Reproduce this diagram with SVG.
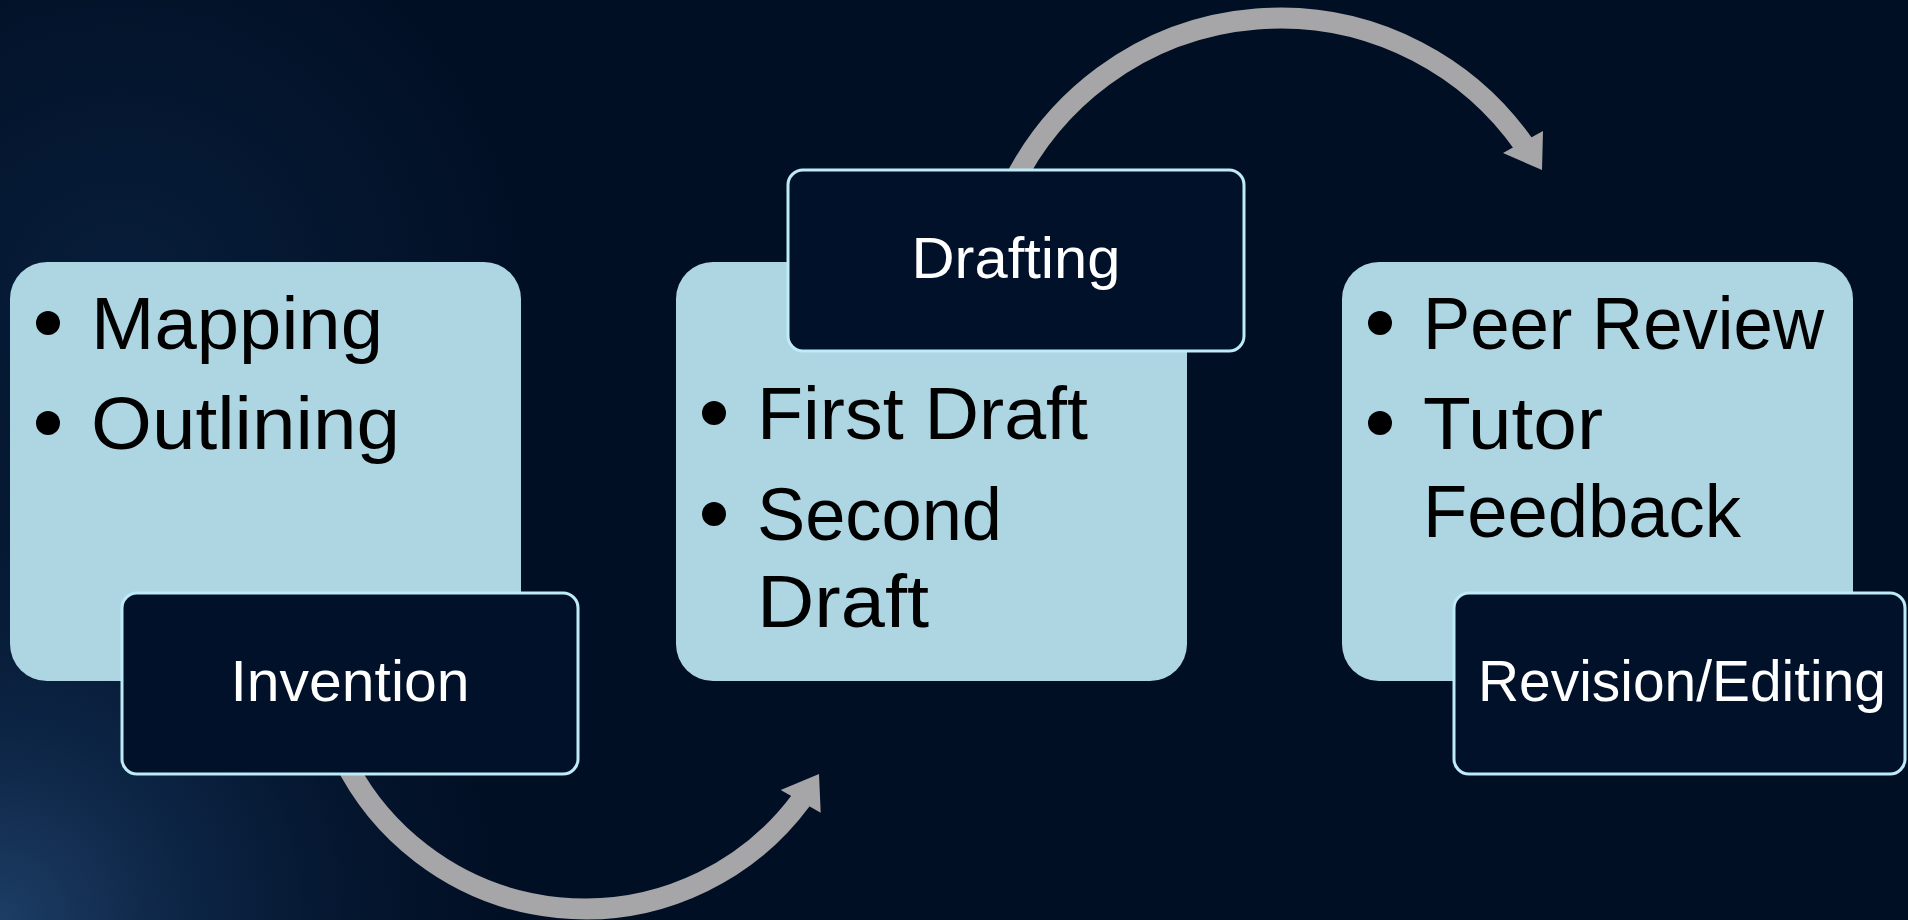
<svg xmlns="http://www.w3.org/2000/svg" width="1908" height="920" viewBox="0 0 1908 920">
  <defs>
    <radialGradient id="glow" cx="0" cy="920" r="520" gradientUnits="userSpaceOnUse">
      <stop offset="0" stop-color="#2a5282" stop-opacity="0.7"/>
      <stop offset="0.45" stop-color="#173a66" stop-opacity="0.4"/>
      <stop offset="1" stop-color="#0a1f3f" stop-opacity="0"/>
    </radialGradient>
    <radialGradient id="glow2" cx="120" cy="300" r="420" gradientUnits="userSpaceOnUse">
      <stop offset="0" stop-color="#0e2a4e" stop-opacity="0.55"/>
      <stop offset="1" stop-color="#0e2a4e" stop-opacity="0"/>
    </radialGradient>
    <style>
      .card { fill: #ADD5E2; }
      .label { fill: #001129; stroke: #BDEBF7; stroke-width: 3; }
      .bullet { fill: #000000; }
      .btext { font-family: "Liberation Sans", Arial, sans-serif; font-size: 74px; fill: #000000; }
      .ltext { font-family: "Liberation Sans", Arial, sans-serif; font-size: 57px; fill: #FFFFFF; text-anchor: middle; }
      .shaft { fill: none; stroke: #A6A6A8; stroke-width: 21; stroke-linecap: butt; }
      .head { fill: #A6A6A8; }
    </style>
  </defs>
  <rect x="0" y="0" width="1908" height="920" fill="#010F24"/>
  <rect x="0" y="0" width="1908" height="920" fill="url(#glow2)"/>
  <rect x="0" y="0" width="1908" height="920" fill="url(#glow)"/>

  <g id="connectors">
    <path class="shaft" d="M 341.2 753.7 A 269 269 0 0 0 801.2 800.0"/>
    <polygon class="head" points="780.7,790 819,774 820.7,812.7"/>
    <path class="shaft" d="M 1012.2 185.4 A 298 298 0 0 1 1524.1 145.1"/>
    <polygon class="head" points="1503,153 1543,131 1542,170"/>
  </g>

  <g id="node-invention-details">
    <rect class="card" x="10" y="262" width="511" height="419" rx="37" ry="37"/>
    <circle class="bullet" cx="48" cy="323" r="12"/>
    <text class="btext" x="91" y="349" textLength="292" lengthAdjust="spacingAndGlyphs">Mapping</text>
    <circle class="bullet" cx="48" cy="423" r="12"/>
    <text class="btext" x="91" y="449" textLength="309" lengthAdjust="spacingAndGlyphs">Outlining</text>
  </g>
  <g id="node-invention">
    <rect class="label" x="122" y="593" width="456" height="181" rx="15" ry="15"/>
    <text class="ltext" x="350" y="701" textLength="239" lengthAdjust="spacingAndGlyphs">Invention</text>
  </g>

  <g id="node-drafting-details">
    <rect class="card" x="676" y="262" width="511" height="419" rx="37" ry="37"/>
    <circle class="bullet" cx="714" cy="413" r="12"/>
    <text class="btext" x="757" y="439" textLength="331" lengthAdjust="spacingAndGlyphs">First Draft</text>
    <circle class="bullet" cx="714" cy="514" r="12"/>
    <text class="btext" x="757" y="540" textLength="245" lengthAdjust="spacingAndGlyphs">Second</text>
    <text class="btext" x="757" y="627" textLength="172" lengthAdjust="spacingAndGlyphs">Draft</text>
  </g>
  <g id="node-drafting">
    <rect class="label" x="788" y="170" width="456" height="181" rx="15" ry="15"/>
    <text class="ltext" x="1016" y="278" textLength="209" lengthAdjust="spacingAndGlyphs">Drafting</text>
  </g>

  <g id="node-revision-details">
    <rect class="card" x="1342" y="262" width="511" height="419" rx="37" ry="37"/>
    <circle class="bullet" cx="1380" cy="323" r="12"/>
    <text class="btext" x="1423" y="349" textLength="401" lengthAdjust="spacingAndGlyphs">Peer Review</text>
    <circle class="bullet" cx="1380" cy="423" r="12"/>
    <text class="btext" x="1423" y="449" textLength="180" lengthAdjust="spacingAndGlyphs">Tutor</text>
    <text class="btext" x="1423" y="537" textLength="318" lengthAdjust="spacingAndGlyphs">Feedback</text>
  </g>
  <g id="node-revision">
    <rect class="label" x="1454" y="593" width="451" height="181" rx="15" ry="15"/>
    <text class="ltext" x="1682" y="701" textLength="408" lengthAdjust="spacingAndGlyphs">Revision/Editing</text>
  </g>
</svg>
